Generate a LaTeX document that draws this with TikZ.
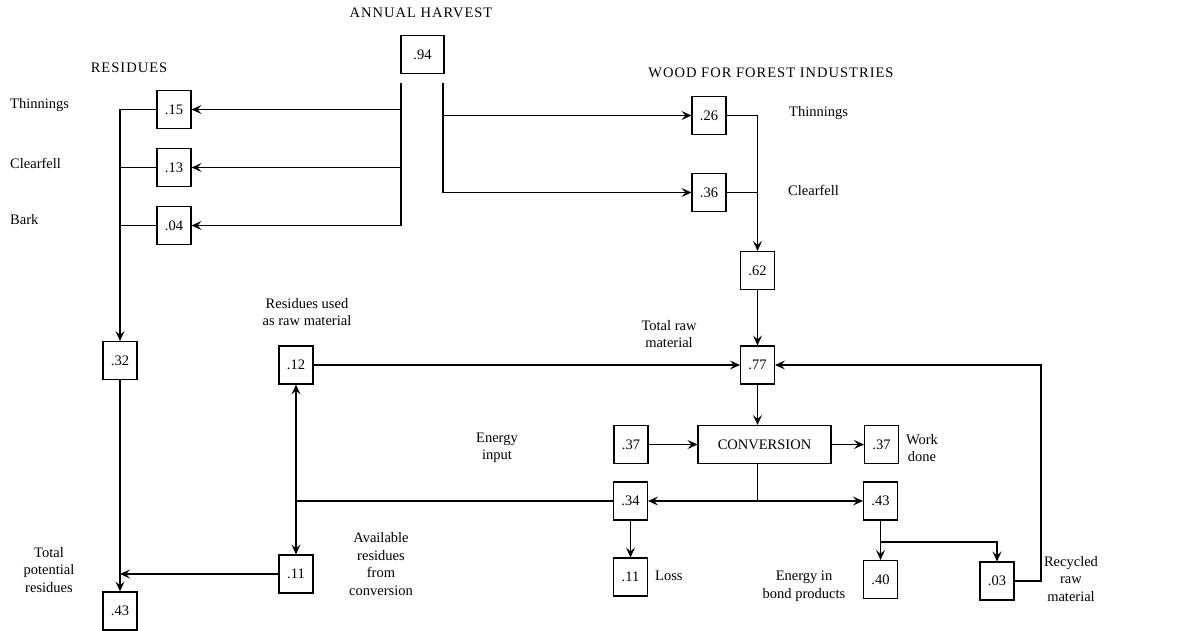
\documentclass[tikz,border=0pt]{standalone}
\usepackage{fontspec}
\setmainfont{Liberation Serif}
\newfontfamily\headfont[LetterSpace=7]{Liberation Serif}
\usetikzlibrary{arrows.meta}
\begin{document}
\begin{tikzpicture}[x=1pt,y=-1pt,
  every node/.style={font=\fontsize{14.5}{17.5}\selectfont},
  valbox/.style={draw,line width=1.1pt,minimum width=34pt,minimum height=38pt,inner sep=0pt},
  lbl/.style={align=center,inner sep=0pt},
  head/.style={inner sep=0pt,font=\headfont\fontsize{14.5}{17.5}\selectfont},
  conn/.style={line width=1.1pt},
  arr/.style={conn,-{Stealth[length=10pt,width=9pt,inset=4pt]}},
  darr/.style={conn,{Stealth[length=10pt,width=9pt,inset=4pt]}-{Stealth[length=10pt,width=9pt,inset=4pt]}}]
\useasboundingbox (0,0) rectangle (1183,631);

% headings
\node[head] (hAH) at (421,13) {ANNUAL HARVEST};
\node[head] (hRes) at (129,68) {RESIDUES};
\node[head] (hWood) at (771,73) {WOOD\ FOR\ FOREST\ INDUSTRIES};

% boxes
\node[valbox,minimum width=43pt] (h94) at (422.5,54.5) {.94};
\node[valbox] (r15) at (174,109.5) {.15};
\node[valbox] (r13) at (174,167.5) {.13};
\node[valbox] (r04) at (174,225.5) {.04};
\node[valbox] (w26) at (709,115.5) {.26};
\node[valbox] (w36) at (709,192.5) {.36};
\node[valbox] (w62) at (757.5,270.5) {.62};
\node[valbox] (r32) at (120,360.5) {.32};
\node[valbox] (u12) at (296,365) {.12};
\node[valbox] (t77) at (757.5,365) {.77};
\node[valbox,minimum width=133pt] (conv) at (764.5,444.5) {CONVERSION};
\node[valbox] (e37) at (631,444.5) {.37};
\node[valbox] (wd37) at (881.5,444.5) {.37};
\node[valbox] (l34) at (630.5,501) {.34};
\node[valbox] (b43) at (880.5,501) {.43};
\node[valbox] (a11) at (296,574) {.11};
\node[valbox] (loss11) at (630.5,577) {.11};
\node[valbox] (p40) at (880.5,579.5) {.40};
\node[valbox] (c03) at (997,581) {.03};
\node[valbox] (tot43) at (120,611) {.43};

% labels
\node[lbl,anchor=west] (lThL) at (10,105) {Thinnings};
\node[lbl,anchor=west] (lClL) at (10,163) {Clearfell};
\node[lbl,anchor=west] (lBk) at (10,220) {Bark};
\node[lbl,anchor=west] (lThR) at (789,113) {Thinnings};
\node[lbl,anchor=west] (lClR) at (788,190) {Clearfell};
\node[lbl] (lRU) at (307,312) {Residues used\\as raw material};
\node[lbl] (lTR) at (669,334) {Total raw\\material};
\node[lbl] (lEI) at (497,448) {Energy\\input};
\node[lbl] (lWD) at (922,448) {Work\\done};
\node[lbl,anchor=west] (lLoss) at (655,576) {Loss};
\node[lbl] (lAv) at (381,564) {Available\\residues\\from\\conversion};
\node[lbl] (lTP) at (49,570) {Total\\potential\\residues};
\node[lbl] (lEB) at (804,586) {Energy in\\bond products};
\node[lbl] (lRR) at (1071,579) {Recycled\\raw\\material};

% harvest split
\coordinate (hl) at (401,83);
\coordinate (hr) at (443,83);
\draw[arr] (hl) |- (r04.east);
\draw[arr] (hl |- r15) -- (r15.east);
\draw[arr] (hl |- r13) -- (r13.east);
\draw[arr] (hr) |- (w36.west);
\draw[arr] (hr |- w26) -- (w26.west);

% residues bus
\draw[arr] (r15.west) -| (r32.north);
\draw[conn] (r13.west) -- (r13.west -| r32.north);
\draw[conn] (r04.west) -- (r04.west -| r32.north);

% wood bus
\draw[arr] (w26.east) -| (w62.north);
\draw[conn] (w36.east) -- (w36.east -| w62.north);
\draw[arr] (w62.south) -- (t77.north);

% raw material
\draw[arr] (u12.east) -- (t77.west);
\coordinate (rc) at (1041,0);
\draw[arr] (c03.east) -| (rc |- t77) -- (t77.east);
\draw[arr] (t77.south) -- (t77.south |- conv.north);
\draw[arr] (e37.east) -- (conv.west);
\draw[arr] (conv.east) -- (wd37.west);

% conversion outputs
\coordinate (sp) at (757.5,501);
\draw[conn] (t77.south |- conv.south) -- (sp);
\draw[arr] (sp) -- (l34.east);
\draw[arr] (sp) -- (b43.west);
\draw[arr] (l34.south) -- (loss11.north);
\draw[conn] (l34.west) -- (l34.west -| a11.north);
\draw[darr] (u12.south) -- (a11.north);
\draw[arr] (a11.west) -- (a11.west -| tot43.north);
\draw[arr] (r32.south) -- (tot43.north);

\coordinate (bj) at (880.5,542);
\draw[arr] (b43.south) -- (p40.north);
\draw[arr] (bj) -| (c03.north);
\end{tikzpicture}
\end{document}
